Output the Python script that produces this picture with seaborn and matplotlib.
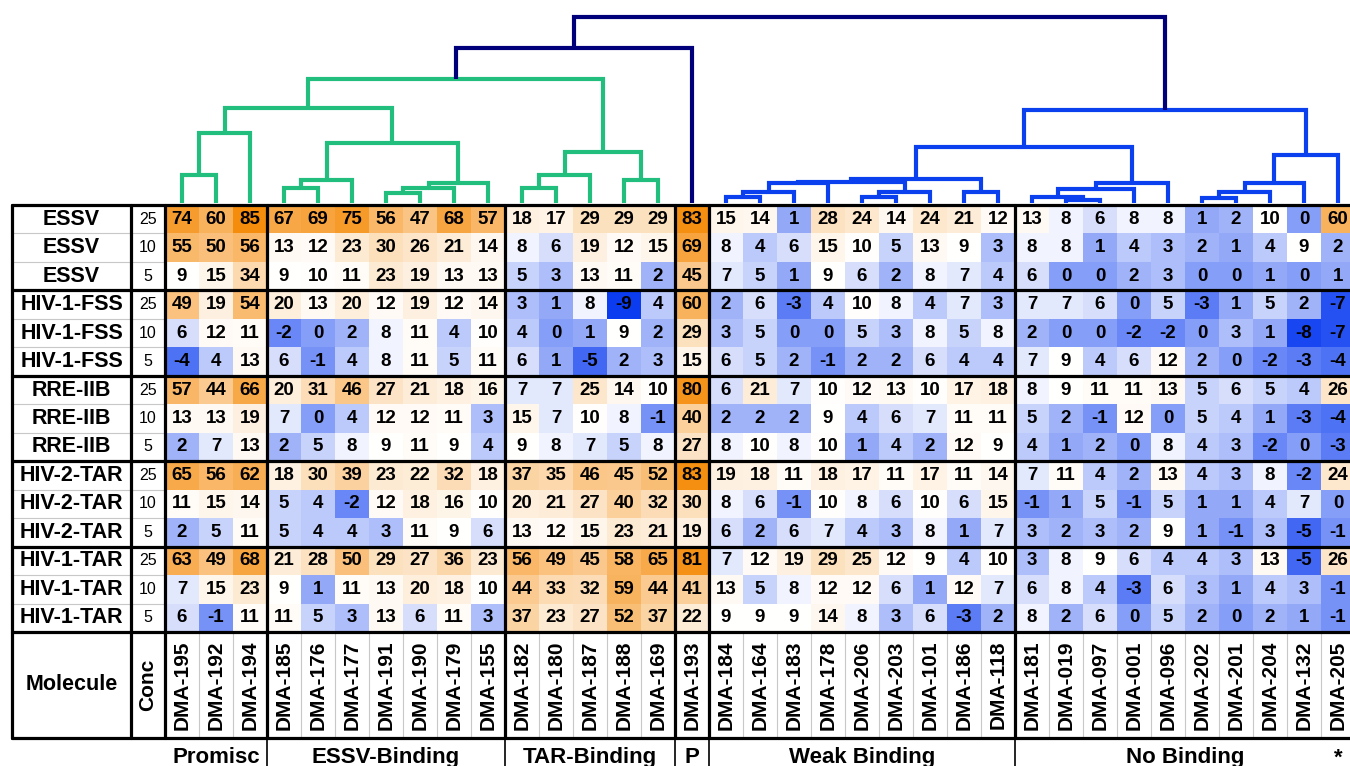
import numpy as np
import pandas as pd
import matplotlib
matplotlib.use("Agg")
import matplotlib.pyplot as plt
import seaborn as sns
from matplotlib.colors import LinearSegmentedColormap, TwoSlopeNorm

# ===== DATA =====
molecules = ["DMA-195", "DMA-192", "DMA-194",
             "DMA-185", "DMA-176", "DMA-177", "DMA-191", "DMA-190", "DMA-179", "DMA-155",
             "DMA-182", "DMA-180", "DMA-187", "DMA-188", "DMA-169",
             "DMA-193",
             "DMA-184", "DMA-164", "DMA-183", "DMA-178", "DMA-206", "DMA-203", "DMA-101", "DMA-186", "DMA-118",
             "DMA-181", "DMA-019", "DMA-097", "DMA-001", "DMA-096", "DMA-202", "DMA-201", "DMA-204", "DMA-132", "DMA-205"]
groups = ["Promisc", "ESSV-Binding", "TAR-Binding", "P", "Weak Binding", "No Binding"]
group_sizes = [3, 7, 5, 1, 9, 10]
targets = ["ESSV", "HIV-1-FSS", "RRE-IIB", "HIV-2-TAR", "HIV-1-TAR"]
concs = [25, 10, 5]

essv = [
    [74, 60, 85, 67, 69, 75, 56, 47, 68, 57, 18, 17, 29, 29, 29, 83, 15, 14, 1, 28, 24, 14, 24, 21, 12, 13, 8, 6, 8, 8, 1, 2, 10, 0, 60],
    [55, 50, 56, 13, 12, 23, 30, 26, 21, 14, 8, 6, 19, 12, 15, 69, 8, 4, 6, 15, 10, 5, 13, 9, 3, 8, 8, 1, 4, 3, 2, 1, 4, 9, 2],
    [9, 15, 34, 9, 10, 11, 23, 19, 13, 13, 5, 3, 13, 11, 2, 45, 7, 5, 1, 9, 6, 2, 8, 7, 4, 6, 0, 0, 2, 3, 0, 0, 1, 0, 1],
]
fss = [
    [49, 19, 54, 20, 13, 20, 12, 19, 12, 14, 3, 1, 8, -9, 4, 60, 2, 6, -3, 4, 10, 8, 4, 7, 3, 7, 7, 6, 0, 5, -3, 1, 5, 2, -7],
    [6, 12, 11, -2, 0, 2, 8, 11, 4, 10, 4, 0, 1, 9, 2, 29, 3, 5, 0, 0, 5, 3, 8, 5, 8, 2, 0, 0, -2, -2, 0, 3, 1, -8, -7],
    [-4, 4, 13, 6, -1, 4, 8, 11, 5, 11, 6, 1, -5, 2, 3, 15, 6, 5, 2, -1, 2, 2, 6, 4, 4, 7, 9, 4, 6, 12, 2, 0, -2, -3, -4],
]
rre = [
    [57, 44, 66, 20, 31, 46, 27, 21, 18, 16, 7, 7, 25, 14, 10, 80, 6, 21, 7, 10, 12, 13, 10, 17, 18, 8, 9, 11, 11, 13, 5, 6, 5, 4, 26],
    [13, 13, 19, 7, 0, 4, 12, 12, 11, 3, 15, 7, 10, 8, -1, 40, 2, 2, 2, 9, 4, 6, 7, 11, 11, 5, 2, -1, 12, 0, 5, 4, 1, -3, -4],
    [2, 7, 13, 2, 5, 8, 9, 11, 9, 4, 9, 8, 7, 5, 8, 27, 8, 10, 8, 10, 1, 4, 2, 12, 9, 4, 1, 2, 0, 8, 4, 3, -2, 0, -3],
]
tar2 = [
    [65, 56, 62, 18, 30, 39, 23, 22, 32, 18, 37, 35, 46, 45, 52, 83, 19, 18, 11, 18, 17, 11, 17, 11, 14, 7, 11, 4, 2, 13, 4, 3, 8, -2, 24],
    [11, 15, 14, 5, 4, -2, 12, 18, 16, 10, 20, 21, 27, 40, 32, 30, 8, 6, -1, 10, 8, 6, 10, 6, 15, -1, 1, 5, -1, 5, 1, 1, 4, 7, 0],
    [2, 5, 11, 5, 4, 4, 3, 11, 9, 6, 13, 12, 15, 23, 21, 19, 6, 2, 6, 7, 4, 3, 8, 1, 7, 3, 2, 3, 2, 9, 1, -1, 3, -5, -1],
]
tar1 = [
    [63, 49, 68, 21, 28, 50, 29, 27, 36, 23, 56, 49, 45, 58, 65, 81, 7, 12, 19, 29, 25, 12, 9, 4, 10, 3, 8, 9, 6, 4, 4, 3, 13, -5, 26],
    [7, 15, 23, 9, 1, 11, 13, 20, 18, 10, 44, 33, 32, 59, 44, 41, 13, 5, 8, 12, 12, 6, 1, 12, 7, 6, 8, 4, -3, 6, 3, 1, 4, 3, -1],
    [6, -1, 11, 11, 5, 3, 13, 6, 11, 3, 37, 23, 27, 52, 37, 22, 9, 9, 9, 14, 8, 3, 6, -3, 2, 8, 2, 6, 0, 5, 2, 0, 2, 1, -1],
]

# dendrogram merges: (node, left, right, height)
green_links = [
    ("g1", "DMA-195", "DMA-192", 28), ("g2", "g1", "DMA-194", 70),
    ("g3", "DMA-185", "DMA-176", 15), ("g4", "g3", "DMA-177", 23),
    ("g5", "DMA-191", "DMA-190", 10), ("g6", "g5", "DMA-179", 15),
    ("g7", "g6", "DMA-155", 20), ("g8", "g4", "g7", 60), ("g9", "g2", "g8", 95),
    ("g10", "DMA-182", "DMA-180", 15), ("g11", "g10", "DMA-187", 28),
    ("g12", "DMA-188", "DMA-169", 23), ("g13", "g11", "g12", 51),
    ("g14", "g9", "g13", 124),
]
blue_links = [
    ("b1", "DMA-184", "DMA-164", 6), ("b2", "b1", "DMA-183", 11), ("b3", "b2", "DMA-178", 20),
    ("b4", "DMA-206", "DMA-203", 6), ("b5", "b4", "DMA-101", 11), ("b6", "b3", "b5", 21.5),
    ("b7", "DMA-186", "DMA-118", 11), ("b8", "b6", "b7", 24),
    ("b9", "DMA-019", "DMA-097", 3), ("b10", "DMA-181", "b9", 6.5),
    ("b11", "b10", "DMA-001", 14.5), ("b12", "b11", "DMA-096", 20.5),
    ("b13", "b8", "b12", 56),
    ("b14", "DMA-202", "DMA-201", 5), ("b15", "b14", "DMA-204", 11),
    ("b16", "b15", "DMA-132", 20), ("b17", "b16", "DMA-205", 48),
    ("b18", "b13", "b17", 93),
]
top_links = [("t1", "g14", "DMA-193", 155), ("t2", "t1", "b18", 186)]

# ===== SETUP =====
sns.set_style("white")
plt.rcParams['font.family'] = ['Liberation Sans', 'DejaVu Sans']
plt.rcParams['text.color'] = 'black'

W, H = 1350, 766
fig = plt.figure(figsize=(W / 100, H / 100), dpi=100)
ax = fig.add_axes([165 / W, 1 - 632 / H, 1190 / W, 427 / H])
dax = fig.add_axes([165 / W, 1 - 205 / H, 1190 / W, 205 / H])

rows = [f"{t} {c}" for t in targets for c in concs]
df = pd.DataFrame(essv + fss + rre + tar2 + tar1, index=rows, columns=molecules)

cmap = LinearSegmentedColormap.from_list("bwo", ["#0b3cf0", "#ffffff", "#f58c0c"])
norm = TwoSlopeNorm(vmin=-9, vcenter=9, vmax=85)
sns.heatmap(df, ax=ax, cmap=cmap, norm=norm, cbar=False, annot=True, fmt="d",
            annot_kws={"fontsize": 13.5, "fontweight": "bold", "color": "black"},
            xticklabels=False, yticklabels=False)
ax.set_xlabel("")
ax.set_ylabel("")

n_rows, n_cols = df.shape
left, conc_x = -4.5, -1
bottom = n_rows + 3.72
lw_thick, lw_thin = 2.3, 0.8

# ===== TABLE TEXT =====
for r, name in enumerate(rows):
    t, c = name.split(" ")
    ax.text((left + conc_x) / 2, r + 0.5, t, ha="center", va="center",
            fontsize=15.5, fontweight="bold", clip_on=False)
    ax.text(conc_x / 2, r + 0.5, c, ha="center", va="center", fontsize=11.5, clip_on=False)

mid_y = (n_rows + bottom) / 2
ax.text((left + conc_x) / 2, mid_y, "Molecule", ha="center", va="center",
        fontsize=15.5, fontweight="bold", clip_on=False)
ax.text(conc_x / 2, mid_y, "Conc", ha="center", va="center", rotation=90,
        fontsize=15, fontweight="bold", clip_on=False)
for i, m in enumerate(molecules):
    ax.text(i + 0.5, mid_y, m, ha="center", va="center", rotation=90,
            fontsize=15, fontweight="bold", clip_on=False)

# ===== GRID LINES =====
for r in range(1, n_rows):
    if r % 3:
        ax.plot([left, 0], [r, r], color="#c8c8c8", lw=lw_thin, clip_on=False)
for i in range(1, n_cols):
    ax.plot([i, i], [n_rows, bottom], color="#c8c8c8", lw=lw_thin, clip_on=False)

for r in range(0, n_rows + 1, 3):
    ax.plot([left, n_cols], [r, r], color="black", lw=lw_thick, clip_on=False)
ax.plot([left, n_cols], [bottom, bottom], color="black", lw=lw_thick, clip_on=False)

bounds = np.cumsum([0] + group_sizes)
for x in [left, conc_x] + list(bounds):
    ax.plot([x, x], [0, bottom], color="black", lw=lw_thick, clip_on=False)
for x in bounds[1:-1]:
    ax.plot([x, x], [bottom, bottom + 2], color="black", lw=1.2, clip_on=False)

# ===== GROUP LABELS =====
for g, a, b in zip(groups, bounds[:-1], bounds[1:]):
    ax.text((a + b) / 2, bottom + 0.7, g, ha="center", va="center",
            fontsize=16, fontweight="bold", clip_on=False)
ax.text(n_cols - 0.5, bottom + 0.7, "*", ha="center", va="center",
        fontsize=16, fontweight="bold", clip_on=False)

# ===== DENDROGRAM =====
pos = {m: i + 0.5 for i, m in enumerate(molecules)}
hgt = {m: 0 for m in molecules}
for links, color in [(green_links, "#22be7e"), (blue_links, "#0a40ee"), (top_links, "#00007a")]:
    for node, l, r, h in links:
        dax.plot([pos[l], pos[l], pos[r], pos[r]], [hgt[l], h, h, hgt[r]],
                 color=color, lw=3, solid_joinstyle="miter", solid_capstyle="butt")
        pos[node] = (pos[l] + pos[r]) / 2
        hgt[node] = h
dax.set_xlim(0, n_cols)
dax.set_ylim(-2, 203)
dax.axis("off")

plt.savefig("out.png", dpi=100)
plt.close()
